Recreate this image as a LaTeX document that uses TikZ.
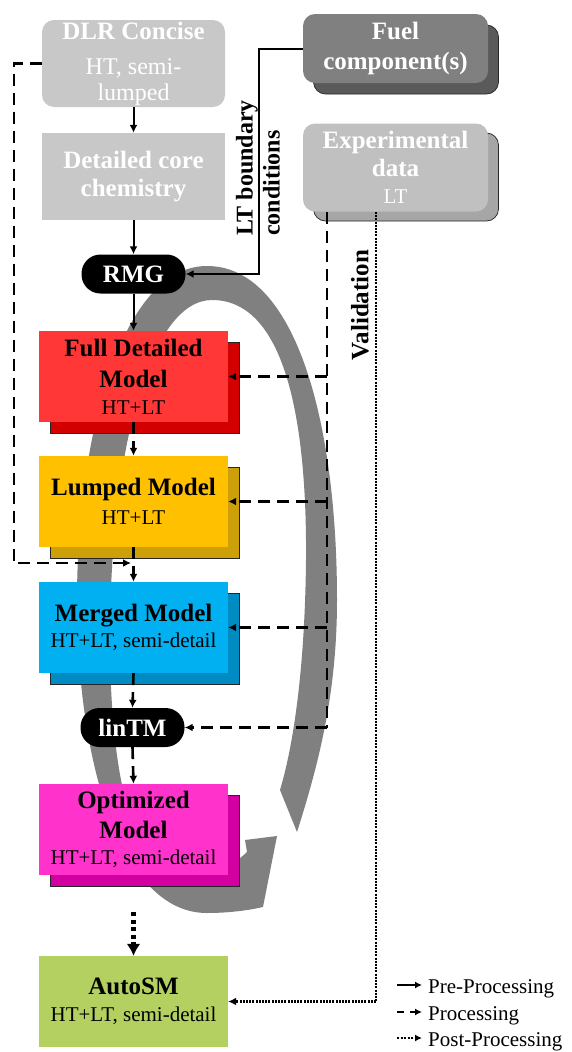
\documentclass[tikz,border=0pt]{standalone}
\usepackage{fontspec}
\setmainfont{Liberation Serif}
\usetikzlibrary{arrows.meta,calc}
\definecolor{lgray}{RGB}{200,200,200}
\definecolor{fuelF}{RGB}{128,128,128}
\definecolor{fuelS}{RGB}{90,90,90}
\definecolor{expF}{RGB}{192,192,192}
\definecolor{expS}{RGB}{166,166,166}
\definecolor{band}{RGB}{128,128,128}
\definecolor{redF}{RGB}{255,55,55}
\definecolor{redS}{RGB}{210,0,0}
\definecolor{yelF}{RGB}{255,192,0}
\definecolor{yelS}{RGB}{205,160,10}
\definecolor{bluF}{RGB}{0,176,240}
\definecolor{bluS}{RGB}{0,140,195}
\definecolor{magF}{RGB}{255,51,204}
\definecolor{magS}{RGB}{210,0,160}
\definecolor{grnF}{RGB}{180,208,96}
\newcommand{\tb}[1]{{\fontsize{25}{30}\selectfont\bfseries #1}}
\tikzset{
  front/.style={minimum width=189pt, minimum height=91pt, inner sep=0pt, align=center, text=black, font=\fontsize{21}{29}\selectfont},
  shadowbox/.style={draw=black!85, line width=0.7pt, minimum width=189pt, minimum height=91pt, inner sep=0pt},
  pill/.style={fill=black, rounded corners=19pt, text=white, minimum width=104pt, minimum height=39pt, inner sep=0pt, font=\fontsize{25}{30}\selectfont\bfseries},
  tip/.style={-{Latex[length=8pt,width=8pt]}},
  pre/.style={line width=2pt, tip},
  procline/.style={line width=2.6pt, dash pattern=on 12pt off 7pt},
  proc/.style={procline, tip},
  postline/.style={line width=2.4pt, dash pattern=on 2pt off 1.2pt},
  post/.style={postline, tip},
  graybox/.style={fill=lgray, text=white, inner sep=0pt, align=center},
}
\begin{document}
\begin{tikzpicture}[x=1pt,y=-1pt]
\useasboundingbox (0,0) rectangle (571,1052);
% big circular arrow
\fill[band] (297,832) .. controls (320,760) and (337,690) .. (337,600)
  .. controls (337,420) and (295,266) .. (207,266)
  .. controls (120,266) and (77,440) .. (77,600)
  .. controls (77,760) and (120,913) .. (207,913)
  .. controls (230,913) and (250,910) .. (263,907)
  -- (277,836) -- (245,840) -- (247,852)
  .. controls (228,870) and (205,880) .. (185,880)
  .. controls (135,880) and (110,780) .. (110,640)
  .. controls (110,450) and (150,300) .. (212,300)
  .. controls (288,300) and (307,430) .. (306,560)
  .. controls (305,660) and (295,740) .. (280,790) -- cycle;

% top grey boxes
\node[graybox, rounded corners=12pt, minimum width=183pt, minimum height=87pt, font=\fontsize{24}{26}\selectfont] (dlr) at (133.5,63.5)
  {\tb{DLR Concise}\\[9pt]HT, semi-\\lumped};
\node[graybox, minimum width=183pt, minimum height=87pt, font=\fontsize{25}{28}\selectfont\bfseries] (det) at (133.5,176.5)
  {Detailed core\\chemistry};
\node[pill] (rmg) at (133.5,274) {RMG};

% Fuel and experimental
\node[draw=black!85, line width=0.7pt, fill=fuelS, rounded corners=12pt, minimum width=185pt, minimum height=69pt] (fuelS) at (406,59.5) {};
\node[fill=fuelF, rounded corners=12pt, minimum width=185pt, minimum height=69pt, inner sep=0pt, text=white, align=center, font=\fontsize{25}{30}\selectfont\bfseries] (fuel) at (395.5,48.5) {Fuel\\component(s)};
\node[draw=black!85, line width=0.7pt, fill=expS, rounded corners=12pt, minimum width=185pt, minimum height=88pt] (expS) at (406,177) {};
\node[fill=expF, rounded corners=12pt, minimum width=185pt, minimum height=88pt, inner sep=0pt, text=white, align=center, font=\fontsize{25}{28}\selectfont\bfseries] (exp) at (395.5,167.5)
  {Experimental\\data\\[-1pt]{\fontsize{21}{22}\selectfont\mdseries LT}};

% model boxes
\node[shadowbox, fill=redS] (fullS) at (144.5,387.5) {};
\node[front, fill=redF] (full) at (133.5,376.5) {\tb{Full Detailed}\\[2pt]\tb{Model}\\[-2pt]HT+LT};
\node[shadowbox, fill=yelS] (lumpS) at (144.5,512.5) {};
\node[front, fill=yelF] (lump) at (133.5,501.5) {\tb{Lumped Model}\\HT+LT};
\node[shadowbox, fill=bluS] (mergS) at (144.5,638.5) {};
\node[front, fill=bluF] (merg) at (133.5,627.5) {\tb{Merged Model}\\[-3pt]HT+LT, semi-detail};
\node[pill] (lintm) at (132.5,727.5) {linTM};
\node[shadowbox, fill=magS] (optS) at (144.5,840.5) {};
\node[front, fill=magF] (opt) at (133.5,829.5) {\tb{Optimized}\\[1pt]\tb{Model}\\[-3pt]HT+LT, semi-detail};
\node[front, fill=grnF] (auto) at (133.5,1001.5) {\tb{AutoSM}\\[-2pt]HT+LT, semi-detail};

% main chain
\draw[pre] (dlr.south) -- (det.north);
\draw[pre] (det.south) -- (rmg.north);
\draw[pre] (rmg.south) -- (full.north);
\draw[proc] (full.south) -- (lump.north);
\draw[proc] (lump.south) -- (merg.north);
\draw[proc] (merg.south) -- (lintm.north);
\draw[proc] (lintm.south) -- (opt.north);
\draw[line width=4.5pt, dash pattern=on 4pt off 3.5pt, -{Latex[length=12pt,width=14pt]}] ($(opt.south)+(0,37)$) -- (auto.north);

% LT boundary conditions
\coordinate (ltc) at (259,48.5);
\draw[pre] (fuel.west) -- (ltc) |- (rmg.east);
\node[rotate=90, align=left, font=\fontsize{24}{27}\selectfont\bfseries] (ltlab) at (258,168) {LT boundary\\conditions};

% DLR dashed feed
\coordinate (dlrm) at (131,563);
\draw[proc] (dlr.west) -- ++(-28,0) |- (dlrm);

% validation lines
\coordinate (vd) at (327,212);
\coordinate (vv) at (376,212);
\draw[procline] (vd) -- (vd |- lintm.east);
\draw[proc] (vd |- full.east) -- (full.east);
\draw[proc] (vd |- lump.east) -- (lump.east);
\draw[proc] (vd |- merg.east) -- (merg.east);
\draw[proc] (vd |- lintm.east) -- (lintm.east);
\draw[postline] (vv) -- (vv |- auto.east);
\draw[post] (vv |- auto.east) -- (auto.east);
\node[rotate=90, font=\fontsize{25}{30}\selectfont\bfseries] (val) at (360,305) {Validation};

% legend
\coordinate (l1a) at (397,985); \coordinate (l1b) at (422,985);
\coordinate (l2a) at (397,1012); \coordinate (l2b) at (422,1012);
\coordinate (l3a) at (397,1038); \coordinate (l3b) at (422,1038);
\draw[line width=1.8pt, -{Latex[length=7pt,width=7pt]}] (l1a) -- (l1b);
\draw[line width=1.8pt, dash pattern=on 7pt off 6pt, -{Latex[length=7pt,width=7pt]}] (l2a) -- (l2b);
\draw[line width=1.8pt, dash pattern=on 2pt off 1.5pt, -{Latex[length=7pt,width=7pt]}] (l3a) -- (l3b);
\node[anchor=base west, inner sep=0pt, font=\fontsize{21}{25}\selectfont] (lg1) at (428,993) {Pre-Processing};
\node[anchor=base west, inner sep=0pt, font=\fontsize{21}{25}\selectfont] (lg2) at (428,1020) {Processing};
\node[anchor=base west, inner sep=0pt, font=\fontsize{21}{25}\selectfont] (lg3) at (428,1046) {Post-Processing};
\end{tikzpicture}
\end{document}
